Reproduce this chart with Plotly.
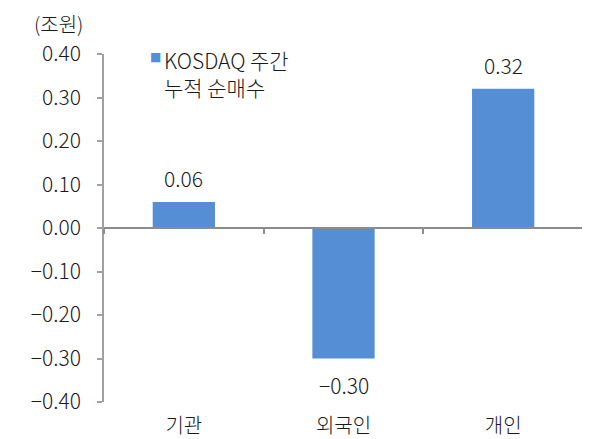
import plotly.graph_objects as go

categories = ["기관", "외국인", "개인"]
values = [0.06, -0.30, 0.32]
value_labels = ["0.06", "−0.30", "0.32"]
series_lines = ["KOSDAQ 주간", "누적 순매수"]
y_ticks = [0.4, 0.3, 0.2, 0.1, 0.0, -0.1, -0.2, -0.3, -0.4]
y_tick_labels = ["0.40", "0.30", "0.20", "0.10", "0.00", "−0.10", "−0.20", "−0.30", "−0.40"]
unit_label = "(조원)"

FONT = "Noto Sans CJK KR"
FS = 21
TXT = "#1A1A1A"
BAR = "#558ED5"
AX = "#A0A0A0"

# the page body has an 8px default margin; size the figure to fit the window
W, H = 590 - 8, 439 - 8

fig = go.Figure()
fig.add_trace(go.Bar(
    x=categories, y=values, name=" ".join(series_lines),
    marker=dict(color=BAR, line=dict(width=0)),
    width=0.39, showlegend=False, cliponaxis=False,
))

annotations = []
for c, v, t in zip(categories, values, value_labels):
    annotations.append(dict(
        x=c, y=v, xref="x", yref="y", text=t, showarrow=False,
        yanchor="middle", yshift=24 if v >= 0 else -26,
        font=dict(family=FONT, size=FS, color=TXT, weight=300),
    ))
annotations.append(dict(
    text=unit_label, xref="paper", yref="paper", x=0, y=1,
    xanchor="right", yanchor="middle", xshift=-19, yshift=31,
    showarrow=False, font=dict(family=FONT, size=FS - 1, color=TXT, weight=300),
))
# legend (marker + two text lines)
annotations.append(dict(
    text="■", xref="paper", yref="paper", x=0.1065, y=0.991,
    xanchor="center", yanchor="middle", showarrow=False,
    font=dict(family="DejaVu Sans", size=12, color=BAR),
))
annotations.append(dict(
    text="<br>".join(series_lines), xref="paper", yref="paper", x=0.121, y=1.033,
    xanchor="left", yanchor="top", align="left", showarrow=False,
    font=dict(family=FONT, size=FS, color=TXT, weight=300),
))

fig.update_layout(
    width=W, height=H,
    margin=dict(l=96, r=7, t=46, b=37, autoexpand=False),
    paper_bgcolor="white", plot_bgcolor="white",
    font=dict(family=FONT, size=FS, color=TXT),
    showlegend=False,
    xaxis=dict(
        type="category", range=[-0.5, 2.5], automargin=False,
        anchor="free", position=0.5,
        showline=True, linecolor="#8C8C8C", linewidth=1.5,
        ticks="outside", tickson="boundaries", ticklen=5, tickcolor="#8C8C8C", tickwidth=1.5,
        ticklabelstandoff=180,
        showgrid=False, zeroline=False,
        tickfont=dict(family=FONT, size=FS - 1, color=TXT, weight=300),
    ),
    yaxis=dict(
        range=[-0.4, 0.4], tickvals=y_ticks, ticktext=y_tick_labels, automargin=False,
        showline=True, linecolor=AX, linewidth=1.5,
        ticks="outside", ticklen=5, tickcolor=AX, tickwidth=1.5,
        ticklabelstandoff=12,
        showgrid=False, zeroline=False,
        tickfont=dict(family=FONT, size=FS, color=TXT, weight=300),
    ),
    annotations=annotations,
)

fig.write_html("out.html")
